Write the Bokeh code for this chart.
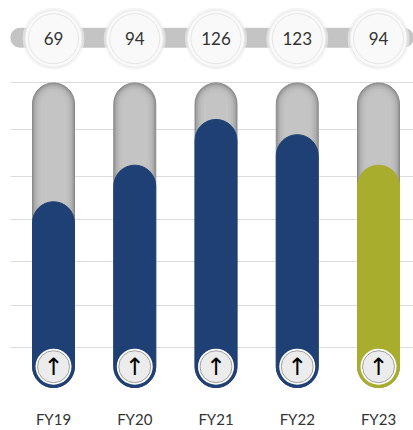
from bokeh.plotting import figure
from bokeh.models import Range1d, FixedTicker, ColumnDataSource
from bokeh.core.properties import value
from bokeh.embed import file_html
from bokeh.resources import INLINE

# ---- data ----
categories = ["FY19", "FY20", "FY21", "FY22", "FY23"]
badge_values = [69, 94, 126, 123, 94]          # numbers shown in the top circles
fill_pct = [61, 73, 88, 83, 73]                # filled share of each track (%)
fill_colors = ["#1f4074", "#1f4074", "#1f4074", "#1f4074", "#a9ad2d"]
grid_levels = [13.0, 26.9, 41.3, 55.1, 69.3, 84.7, 100.0]
track_max = 100

# ---- layout constants (pixels) ----
W, H = 413, 430
LEFT = 10
FRAME_H = 400
PX_PER_CAT = 81.25
FIRST_CENTER = 43            # px inside frame
PX_PER_UNIT = 3.07           # px per % unit
BASE_PX = 390                # page y of 0 %

x_start = -FIRST_CENTER / PX_PER_CAT
x_end = x_start + (W - LEFT) / PX_PER_CAT
y_end = BASE_PX / PX_PER_UNIT
y_start = -(FRAME_H - BASE_PX) / PX_PER_UNIT

def px_y(py):
    return (BASE_PX - py) / PX_PER_UNIT

p = figure(width=W, height=H, output_backend="svg", toolbar_location=None,
           x_range=Range1d(x_start, x_end), y_range=Range1d(y_start, y_end),
           min_border_left=LEFT, min_border_right=0, min_border_top=0,
           min_border_bottom=H - FRAME_H)
p.outline_line_color = None
p.background_fill_color = "white"
p.border_fill_color = "white"

xs = list(range(len(categories)))

# grid
p.xgrid.visible = False
p.yaxis.visible = False
p.yaxis.ticker = FixedTicker(ticks=grid_levels)
p.ygrid.ticker = FixedTicker(ticks=grid_levels)
p.ygrid.grid_line_color = "#dcdcdc"
p.ygrid.grid_line_width = 1

# x axis labels
p.xaxis.ticker = FixedTicker(ticks=xs)
p.xaxis.major_label_overrides = {i: c for i, c in enumerate(categories)}
p.xaxis.axis_line_color = None
p.xaxis.major_tick_line_color = None
p.xaxis.minor_tick_line_color = None
p.xaxis.major_label_text_font = "Lato"
p.xaxis.major_label_text_font_size = "15px"
p.xaxis.major_label_text_color = "#333333"
p.xaxis.major_label_standoff = 6

# top track
p.hbar(y=[px_y(37.5)], left=[x_start], right=[x_end + 1], height=19 / PX_PER_UNIT,
       color="#c4c4c4", border_radius=10)

# background tracks with cylinder shading
shades = [(42, "#8a8a8a"), (40, "#999999"), (38, "#a6a6a6"), (36, "#b0b0b0"),
          (33, "#b9b9b9"), (29, "#c0c0c0"), (24, "#c4c4c4")]
for wpx, col in shades:
    off = (42 - wpx) / 2 / PX_PER_UNIT
    p.vbar(x=xs, bottom=off, top=track_max - off, width=wpx / PX_PER_CAT,
           color=col, border_radius=wpx // 2)

# filled bars
src = ColumnDataSource(dict(x=xs, top=fill_pct, color=fill_colors,
                            val=[str(v) for v in badge_values], cat=categories))
p.vbar(x="x", bottom=0, top="top", width=42 / PX_PER_CAT, color="color",
       border_radius=21, source=src)

# top badges
ty = px_y(38.5)
p.scatter(x=xs, y=ty, size=62, fill_color="#eeeeee", fill_alpha=0.6, line_color=None)
p.scatter(x=xs, y=ty, size=57, fill_color="#f9f9f9", line_color="#ebebeb", line_width=1)
p.scatter(x=xs, y=ty, size=50, fill_color=None, line_color="#e6e6e6", line_width=1)
p.text(x="x", y=ty, text="val", source=src, text_align="center", text_baseline="middle",
       text_font=value("Lato"), text_font_size="17px", text_color="#333333")

# bottom arrow icons
by = px_y(369)
p.scatter(x=xs, y=by, size=36, fill_color="#ffffff", line_color=None)
p.scatter(x=xs, y=by, size=32, fill_color="#ececec", line_color="#a0a0a0", line_width=1)
p.text(x=xs, y=by, text=["↑"] * len(xs), text_align="center", text_baseline="middle",
       text_font=value("DejaVu Sans"), text_font_size="24px", text_color="#000000")

open("out.html", "w").write(file_html(p, INLINE))
